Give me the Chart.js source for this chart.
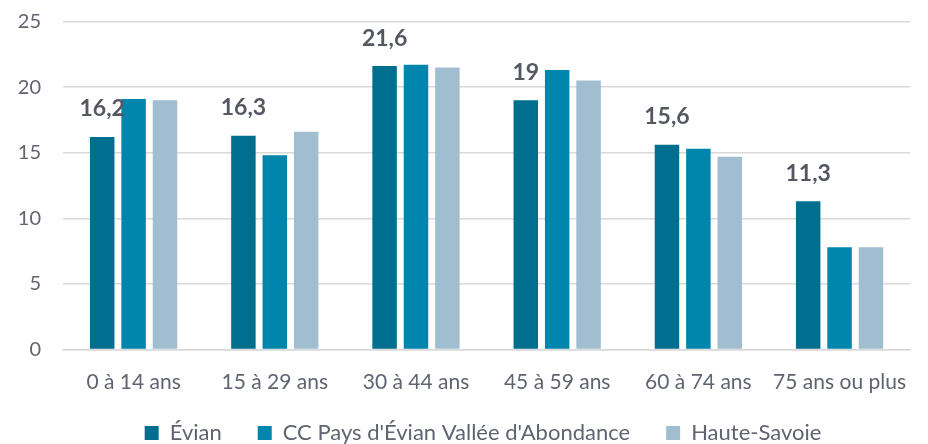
<!DOCTYPE html>
<html>
<head>
<meta charset="utf-8">
<script src="https://cdn.jsdelivr.net/npm/chart.js@4/dist/chart.umd.min.js"></script>
<style>
  html, body { margin: 0; padding: 0; background: #fff; }
  #wrap { width: 928px; height: 444px; }
</style>
</head>
<body>
<div id="wrap"><canvas id="chart"></canvas></div>
<script>
// tranches d'âge et parts de population (%)
const ageGroups = ["0 à 14 ans", "15 à 29 ans", "30 à 44 ans", "45 à 59 ans", "60 à 74 ans", "75 ans ou plus"];
const evian = [16.2, 16.3, 21.6, 19, 15.6, 11.3];
const ccPays = [19.1, 14.8, 21.7, 21.3, 15.3, 7.8];
const hauteSavoie = [19.0, 16.6, 21.5, 20.5, 14.7, 7.8];
const yTicks = [0, 5, 10, 15, 20, 25];

const FONT = "Lato, 'Open Sans', sans-serif";
const GREY = "#5F6470";

// étiquettes de valeur sur la série Évian uniquement
const valueLabels = {
  id: "valueLabels",
  afterDatasetsDraw(chart) {
    const ctx = chart.ctx;
    const meta = chart.getDatasetMeta(0);
    ctx.save();
    ctx.font = "bold 23px " + FONT;
    ctx.fillStyle = "#545860";
    ctx.textAlign = "center";
    ctx.textBaseline = "middle";
    meta.data.forEach((bar, i) => {
      const txt = String(evian[i]).replace(".", ",");
      ctx.fillText(txt, bar.x, bar.y - 28);
    });
    ctx.restore();
  }
};

// pas de découpage des libellés d'axe (les axes sont resserrés à la main)
const noClip = (axis) => { axis._computeLabelArea = () => undefined; };

new Chart(document.getElementById("chart"), {
  type: "bar",
  data: {
    labels: ageGroups,
    datasets: [
      { label: "Évian", data: evian, backgroundColor: "#006E8E" },
      { label: "CC Pays d'Évian Vallée d'Abondance", data: ccPays, backgroundColor: "#0086AC" },
      { label: "Haute-Savoie", data: hauteSavoie, backgroundColor: "#A1BDD0" }
    ]
  },
  options: {
    responsive: true,
    maintainAspectRatio: false,
    animation: false,
    layout: { padding: { top: 0, right: 0, left: 38, bottom: -10 } },
    datasets: { bar: { categoryPercentage: 0.667, barPercentage: 0.78 } },
    plugins: {
      tooltip: { enabled: false },
      legend: {
        position: "bottom",
        labels: {
          font: { family: FONT, size: 22 },
          color: GREY,
          boxWidth: 14,
          boxHeight: 14,
          padding: 36
        }
      }
    },
    scales: {
      x: {
        afterFit: (axis) => { axis.height = 36.5; noClip(axis); },
        grid: { display: false, drawTicks: false },
        border: { display: true, color: "#D9D9D9", width: 1.5 },
        ticks: { font: { family: FONT, size: 21, lineHeight: 1 }, color: GREY, padding: 22, maxRotation: 0 }
      },
      y: {
        min: 0,
        max: 25,
        afterBuildTicks: (axis) => { axis.ticks = yTicks.map(v => ({ value: v })); },
        afterFit: (axis) => {
          axis.width = 25;
          axis.paddingTop = 21.5;
          axis.paddingBottom = 0;
          noClip(axis);
        },
        grid: { color: "#D9D9D9", lineWidth: 1.5, drawTicks: false },
        border: { display: false },
        ticks: { font: { family: FONT, size: 20 }, color: GREY, padding: 22 }
      }
    }
  },
  plugins: [valueLabels]
});
</script>
</body>
</html>
